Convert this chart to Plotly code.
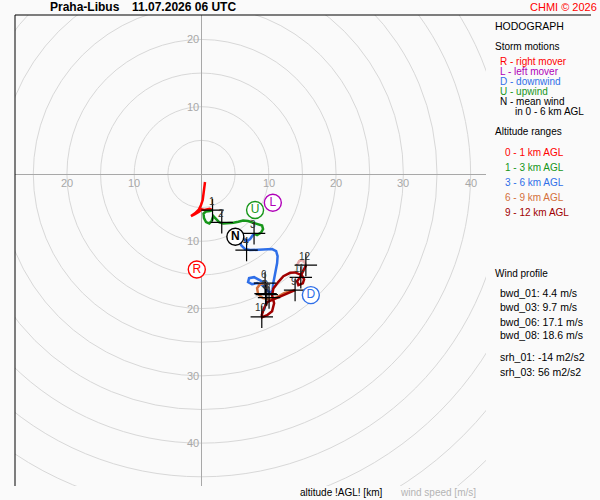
import plotly.graph_objects as go

### hodograph data (u, v components in m/s)
# 0 - 1 km
u_01 = [0.52, 0.42, 0.33, 0.18, -0.07, -0.37, -0.97, -1.56, -0.97, -0.37, 0.03, 0.42, 0.82, 1.22, 1.64]
v_01 = [-1.19, -1.89, -2.87, -3.87, -4.61, -5.25, -5.85, -6.25, -5.95, -5.61, -5.25, -5.36, -5.25, -5.16, -5.36]
# 1 - 3 km
u_13 = [1.64, 1.26, 0.67, 0.30, 0.37, 0.67, 1.16, 1.52, 1.76, 2.16, 2.65, 3.24, 3.99, 4.73,
        5.48, 6.18, 6.92, 7.66, 8.41, 9.00, 9.15, 8.85, 8.26, 7.81]
v_13 = [-5.36, -5.51, -5.58, -5.88, -6.55, -7.14, -7.34, -6.95, -6.25, -6.74, -7.19, -7.34, -7.34, -7.25,
        -7.10, -6.92, -6.99, -7.22, -7.37, -7.66, -8.18, -8.71, -9.08, -8.85]
# 3 - 6 km
u_36 = [7.81, 7.22, 6.70, 6.18, 5.88, 5.73, 5.88, 6.47, 7.22, 8.26, 9.45, 10.49, 11.09, 11.31, 11.24,
        11.01, 10.79, 10.64, 10.57, 10.19, 9.60, 9.00, 8.26, 7.51, 6.92, 7.07, 7.81, 8.56, 9.45]
v_36 = [-8.85, -9.67, -10.04, -9.52, -8.93, -9.82, -10.57, -11.16, -11.31, -11.24, -11.16, -11.16, -11.46, -12.20, -13.24,
        -14.29, -15.33, -16.37, -17.26, -17.71, -17.11, -16.52, -16.22, -16.37, -16.07, -15.48, -15.33, -15.77, -16.22]
# 6 - 9 km
u_69 = [9.45, 8.71, 8.26, 8.41, 9.15, 10.19, 11.24, 12.28, 13.17, 13.91]
v_69 = [-16.22, -16.37, -16.96, -17.86, -18.45, -18.60, -18.30, -17.71, -17.41, -17.26]
# 9 - 12 km
u_912 = [13.91, 12.87, 11.68, 10.64, 9.75, 9.30, 8.96, 9.00, 9.75, 10.49, 10.79, 10.49, 10.68, 11.43,
         12.17, 13.17, 13.91, 14.91, 15.25, 15.06, 14.40, 14.21, 14.66, 15.10, 15.55]
v_912 = [-17.26, -17.71, -18.15, -18.60, -19.05, -19.94, -20.98, -21.28, -20.98, -20.39, -19.20, -18.01, -17.01, -16.03,
         -15.18, -14.69, -14.63, -15.03, -15.67, -16.26, -16.52, -15.92, -15.33, -14.43, -13.54]
# above 12 km
u_top = [14.21, 14.51, 15.10, 15.55]
v_top = [-13.54, -12.95, -12.80, -13.54]

# km levels
km_lbl = ["1", "2", "3", "4", "5", "6", "7", "8", "9", "10", "11", "12"]
km_u = [1.64, 3.01, 7.81, 6.70, 9.52, 9.45, 10.04, 9.70, 13.91, 8.96, 14.76, 15.51]
km_v = [-5.36, -7.19, -8.83, -11.31, -17.77, -16.22, -18.38, -17.93, -17.26, -21.24, -15.37, -13.54]

# storm motions
sm_lbl = ["R", "L", "U", "<b>N</b>", "D"]
sm_u = [-0.70, 10.60, 7.96, 5.03, 16.25]
sm_v = [-14.20, -4.27, -5.36, -9.33, -18.00]
sm_col = ["#ff0000", "#b000b8", "#17961a", "#000000", "#2f6fe8"]

# rings and their labels
rings = [5, 10, 15, 20, 25, 30, 35, 40, 45, 50, 55, 60, 65]
xlab_vals = [-20, -10, 10, 20, 30, 40]
ylab_vals = [20, 10, -10, -20, -30, -40]

# wind profile
profile_txt = ["bwd_01: 4.4 m/s", "bwd_03: 9.7 m/s", "bwd_06: 17.1 m/s", "bwd_08: 18.6 m/s",
               "srh_01: -14 m2/s2", "srh_03: 56 m2/s2"]

RED = "#ff0000"
GREEN = "#17961a"
BLUE = "#2f6fe8"
ORANGE = "#d4703c"
DARKRED = "#a00000"
FONT = "Liberation Sans, Arial, sans-serif"

### page geometry (pixels)
L, R, T, B = 15, 486, 15, 486
W = R - L
H = B - T


def px(x):
    return (x - L) / W


def py(y):
    return (B - y) / H


fig = go.Figure()

for uu, vv, col in [(u_01, v_01, RED), (u_13, v_13, GREEN), (u_36, v_36, BLUE),
                    (u_69, v_69, ORANGE), (u_912, v_912, DARKRED), (u_top, v_top, "#e4a8a8")]:
    fig.add_trace(go.Scatter(x=uu, y=vv, mode="lines",
                             line=dict(color=col, width=2.5),
                             hoverinfo="skip"))

fig.add_trace(go.Scatter(x=km_u, y=km_v, mode="markers",
                         marker=dict(symbol="cross-thin", size=16, line=dict(color="black", width=1.2)),
                         hoverinfo="skip"))

fig.add_trace(go.Scatter(x=sm_u, y=sm_v, mode="markers+text", text=sm_lbl,
                         marker=dict(symbol="circle", size=17, color="white",
                                     line=dict(color=sm_col, width=1.4)),
                         textposition="middle center",
                         textfont=dict(family=FONT, size=12, color=sm_col),
                         hoverinfo="skip"))

annotations = []
for lbl, uu, vv in zip(km_lbl, km_u, km_v):
    annotations.append(dict(x=uu, y=vv, text=lbl, showarrow=False, xshift=-1, yshift=9,
                            font=dict(family=FONT, size=10, color="#303030")))

for val in xlab_vals:
    annotations.append(dict(x=val, y=0, text=str(abs(val)), showarrow=False, yshift=-9,
                            font=dict(family=FONT, size=11, color="#a8a8a8")))
for val in ylab_vals:
    annotations.append(dict(x=0, y=val, text=str(abs(val)), showarrow=False, xanchor="right", xshift=-1,
                            font=dict(family=FONT, size=11, color="#a8a8a8")))

### text around the plot, positions in pixels
texts = [
    ("<b>Praha-Libus</b>", "black", 50, 7, 12),
    ("<b>11.07.2026 06 UTC</b>", "black", 132, 7, 12),
    ("CHMI © 2026", RED, 530, 7, 11),
    ("HODOGRAPH", "black", 495, 26, 10.5),
    ("Storm motions", "black", 495, 47, 10),
    ("R - right mover", RED, 500, 62, 10),
    ("L - left mover", "#b000b8", 500, 72, 10),
    ("D - downwind", BLUE, 500, 82, 10),
    ("U - upwind", GREEN, 500, 92, 10),
    ("N - mean wind", "black", 500, 102, 10),
    ("in 0 - 6 km AGL", "black", 515, 112, 10),
    ("Altitude ranges", "black", 495, 132, 10),
    ("0 - 1 km AGL", RED, 505, 152, 10),
    ("1 - 3 km AGL", GREEN, 505, 167, 10),
    ("3 - 6 km AGL", BLUE, 505, 182, 10),
    ("6 - 9 km AGL", ORANGE, 505, 197, 10),
    ("9 - 12 km AGL", DARKRED, 505, 212, 10),
    ("Wind profile", "black", 495, 273, 10),
    ("altitude !AGL! [km]", "black", 300, 492, 10),
    ("wind speed [m/s]", "#b4b4b4", 400, 492, 10),
]
prof_y = [293, 307, 322, 335, 357, 372]
for t, yy in zip(profile_txt, prof_y):
    texts.append((t, "black", 500, yy, 10.5))

for t, col, x, y, s in texts:
    annotations.append(dict(xref="paper", yref="paper", x=px(x), y=py(y), text=t,
                            xanchor="left", yanchor="middle", showarrow=False,
                            borderpad=0, borderwidth=0,
                            font=dict(family=FONT, size=s, color=col)))

shapes = []
for r in rings:
    shapes.append(dict(type="circle", xref="x", yref="y", x0=-r, x1=r, y0=-r, y1=r,
                       line=dict(color="#d8d8d8", width=1), layer="below"))
# frame: top and left only
shapes.append(dict(type="line", xref="paper", yref="paper", x0=0, x1=px(591), y0=1, y1=1,
                   line=dict(color="black", width=1)))
shapes.append(dict(type="line", xref="paper", yref="paper", x0=0, x1=0, y0=0, y1=1,
                   line=dict(color="black", width=1)))

scale = W / 70.0
x0 = -(201.5 - L) / scale
y1 = (174 - T) / scale

fig.update_layout(
    width=600, height=500,
    margin=dict(l=L, r=600 - R, t=T, b=500 - B),
    paper_bgcolor="#fafafa", plot_bgcolor="#fafafa",
    showlegend=False,
    xaxis=dict(range=[x0, x0 + 70], showgrid=False, showticklabels=False, ticks="",
               zeroline=True, zerolinecolor="#a8a8a8", zerolinewidth=1, fixedrange=True),
    yaxis=dict(range=[y1 - 70, y1], showgrid=False, showticklabels=False, ticks="",
               zeroline=True, zerolinecolor="#a8a8a8", zerolinewidth=1, fixedrange=True),
    annotations=annotations,
    shapes=shapes,
)

fig.write_html("out.html", config={"displayModeBar": False},
               post_script="document.body.style.margin='0';document.body.style.background='#fafafa';")
